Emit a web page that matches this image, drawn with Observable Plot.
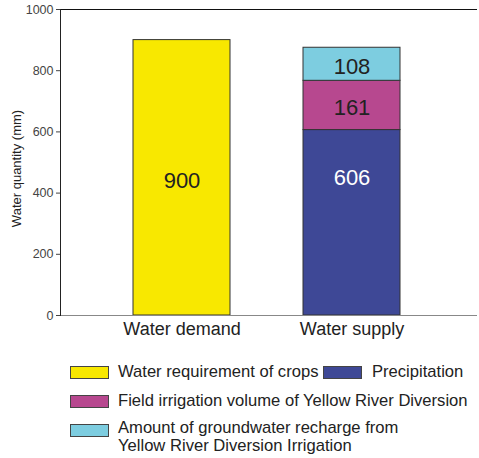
<!DOCTYPE html>
<html><head><meta charset="utf-8">
<script src="https://cdn.jsdelivr.net/npm/d3@7"></script>
<script src="https://cdn.jsdelivr.net/npm/@observablehq/plot@0.6"></script>
<style>
body{margin:0;background:#fff;font-family:Arial,"Liberation Sans",sans-serif;}
#wrap{position:relative;width:479px;height:458px;}
.lg{position:absolute;font-size:16.6px;color:#222;line-height:18px;white-space:nowrap;}
.sw{position:absolute;width:37px;height:11px;border:1px solid #444;}
</style></head><body>
<div id="wrap"><div id="chart"></div></div>
<script>
const categories = ["Water demand", "Water supply"];
const parts = ["Water requirement of crops", "Precipitation", "Field irrigation volume of Yellow River Diversion", "Amount of groundwater recharge from Yellow River Diversion Irrigation"];
const partColors = ["#f8e800", "#3e4896", "#b7488f", "#7dcde0"];
const demandValues = [900];
const supplyValues = [606, 161, 108];
const yTicks = [0, 200, 400, 600, 800, 1000];

const rows = [
  {category: categories[0], part: parts[0], value: demandValues[0]},
  {category: categories[1], part: parts[1], value: supplyValues[0]},
  {category: categories[1], part: parts[2], value: supplyValues[1]},
  {category: categories[1], part: parts[3], value: supplyValues[2]}
];

const chart = Plot.plot({
  width: 479, height: 345,
  marginLeft: 60, marginRight: 2, marginTop: 9, marginBottom: 30,
  style: {fontFamily: "Arial, 'Liberation Sans', sans-serif", background: "#fff"},
  x: {domain: categories, range: [96, 436], paddingInner: 0.43, paddingOuter: 0.215, label: null},
  y: {domain: [0, 1000], ticks: yTicks, label: null},
  color: {domain: parts, range: partColors},
  marks: [
    Plot.barY(rows, Plot.stackY({x: "category", y: "value", fill: "part", stroke: "#333", strokeWidth: 1})),
    Plot.text(rows, Plot.stackY({x: "category", y: "value", text: d => d.part === parts[1] ? "" : String(d.value), fill: "#222", fontSize: 22, dy: 3})),
    Plot.text(rows, Plot.stackY({x: "category", y: "value", text: d => d.part === parts[1] ? String(d.value) : "", fill: "#fff", fontSize: 22, dy: -45})),
    Plot.ruleY([0], {stroke: "#888"}),
    Plot.ruleY([1000], {stroke: "#111"}),
    Plot.frame({anchor: "left", stroke: "#222"}),
    Plot.axisY({ticks: yTicks, tickSize: 4, tickPadding: 3, fontSize: 12.5, color: "#444", label: null, tickFormat: d => String(d)}),
    Plot.axisX({tickSize: 0, tickPadding: 7, fontSize: 18, color: "#222", label: null}),
    Plot.text(["Water quantity (mm)"], {frameAnchor: "left", textAnchor: "middle", dx: -44, dy: 6, rotate: -90, fontSize: 13, fill: "#222", text: d => d})
  ]
});
document.getElementById("chart").appendChild(chart);

const wrap = document.getElementById("wrap");
const legendItems = [
  {i: 0, sx: 70, sy: 366, tx: 118, ty: 363},
  {i: 1, sx: 323, sy: 366, tx: 372, ty: 363},
  {i: 2, sx: 70, sy: 395, tx: 118, ty: 392},
  {i: 3, sx: 70, sy: 424, tx: 118, ty: 419}
];
for (const it of legendItems) {
  const s = document.createElement("div");
  s.className = "sw";
  s.style.left = it.sx + "px"; s.style.top = it.sy + "px";
  s.style.background = partColors[it.i];
  wrap.appendChild(s);
  const t = document.createElement("div");
  t.className = "lg";
  t.style.left = it.tx + "px"; t.style.top = it.ty + "px";
  t.innerHTML = it.i === 3 ? "Amount of groundwater recharge from<br>Yellow River Diversion Irrigation" : parts[it.i];
  wrap.appendChild(t);
}
</script>
</body></html>
